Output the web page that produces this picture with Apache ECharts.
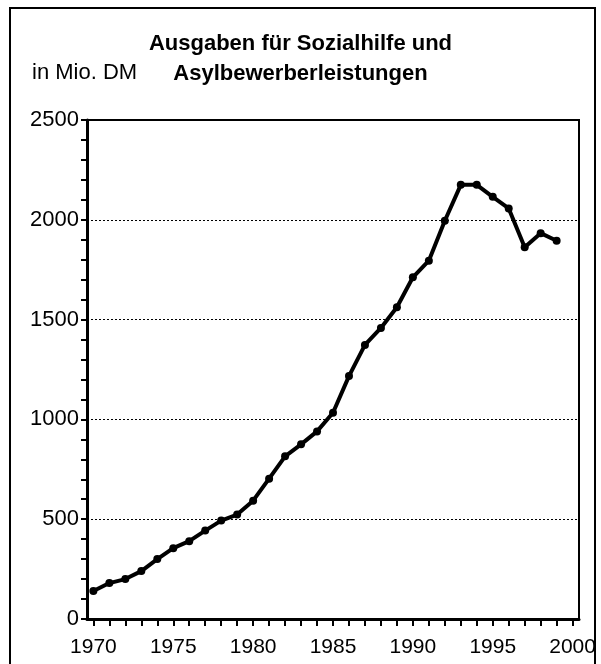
<!DOCTYPE html>
<html>
<head>
<meta charset="utf-8">
<script src="https://cdn.jsdelivr.net/npm/echarts@6/dist/echarts.min.js"></script>
<style>
  html, body { margin: 0; padding: 0; background: #fff; }
  #main { width: 601px; height: 664px; }
</style>
</head>
<body>
<div id="main"></div>
<script>
var FONT = '"Liberation Sans Narrow", "Liberation Sans", Arial, sans-serif';

var years = [1970, 1971, 1972, 1973, 1974, 1975, 1976, 1977, 1978, 1979,
	1980, 1981, 1982, 1983, 1984, 1985, 1986, 1987, 1988, 1989,
	1990, 1991, 1992, 1993, 1994, 1995, 1996, 1997, 1998, 1999];
var ausgaben = [140, 180, 200, 240, 300, 355, 390, 443, 493, 523,
	593, 703, 815, 875, 940, 1033, 1217, 1373, 1458, 1562,
	1712, 1795, 1995, 2175, 2175, 2115, 2057, 1862, 1933, 1895];

var xLabels = [1970, 1975, 1980, 1985, 1990, 1995, 2000];
var xTicks = [];
for (let j = 1970; j <= 2000; j++) xTicks.push(j);

var daten = years.map(function (y, i) {
	return [y, ausgaben[i]];
});

var chart = echarts.init(document.getElementById('main'));

chart.setOption({
	animation: false,
	backgroundColor: '#fff',
	title: {
		text: 'Ausgaben für Sozialhilfe und\nAsylbewerberleistungen',
		left: 'center',
		top: 24,
		textStyle: {
			fontFamily: FONT,
			fontWeight: 'bold',
			fontSize: 22,
			lineHeight: 30,
			color: '#000'
		}
	},
	graphic: [
		{
			type: 'rect',
			shape: { x: 10, y: 8, width: 585, height: 700 },
			style: { fill: null, stroke: '#000', lineWidth: 2 },
			silent: true
		},
		{
			type: 'text',
			left: 32,
			top: 62,
			style: {
				text: 'in Mio. DM',
				font: '22px ' + FONT,
				fill: '#000'
			}
		}
	],
	grid: {
		left: 87,
		top: 120,
		right: 22,
		bottom: 45,
		show: true,
		borderColor: '#000',
		borderWidth: 2
	},
	xAxis: {
		type: 'value',
		min: 1969.6,
		max: 2000.4,
		axisLine: { show: true, lineStyle: { color: '#000', width: 3 } },
		axisTick: {
			show: true,
			customValues: xTicks,
			length: 7,
			lineStyle: { color: '#000', width: 2 }
		},
		axisLabel: {
			customValues: xLabels,
			formatter: function (v) { return String(v); },
			fontFamily: FONT,
			fontSize: 21,
			color: '#000',
			margin: 18
		},
		splitLine: { show: false }
	},
	yAxis: {
		type: 'value',
		min: 0,
		max: 2500,
		interval: 500,
		axisLine: { show: true, lineStyle: { color: '#000', width: 3 } },
		axisTick: {
			show: true,
			length: 6,
			lineStyle: { color: '#000', width: 2 }
		},
		minorTick: {
			show: true,
			splitNumber: 5,
			length: 6,
			lineStyle: { color: '#000', width: 2 }
		},
		axisLabel: {
			formatter: function (v) { return String(v); },
			fontFamily: FONT,
			fontSize: 22,
			color: '#000',
			margin: 8
		},
		splitLine: {
			show: true,
			lineStyle: { color: '#000', type: [2, 2], width: 1 }
		},
		minorSplitLine: { show: false }
	},
	series: [{
		type: 'line',
		data: daten,
		symbol: 'circle',
		symbolSize: 8,
		itemStyle: { color: '#000' },
		lineStyle: { color: '#000', width: 4 }
	}]
});
</script>
</body>
</html>
